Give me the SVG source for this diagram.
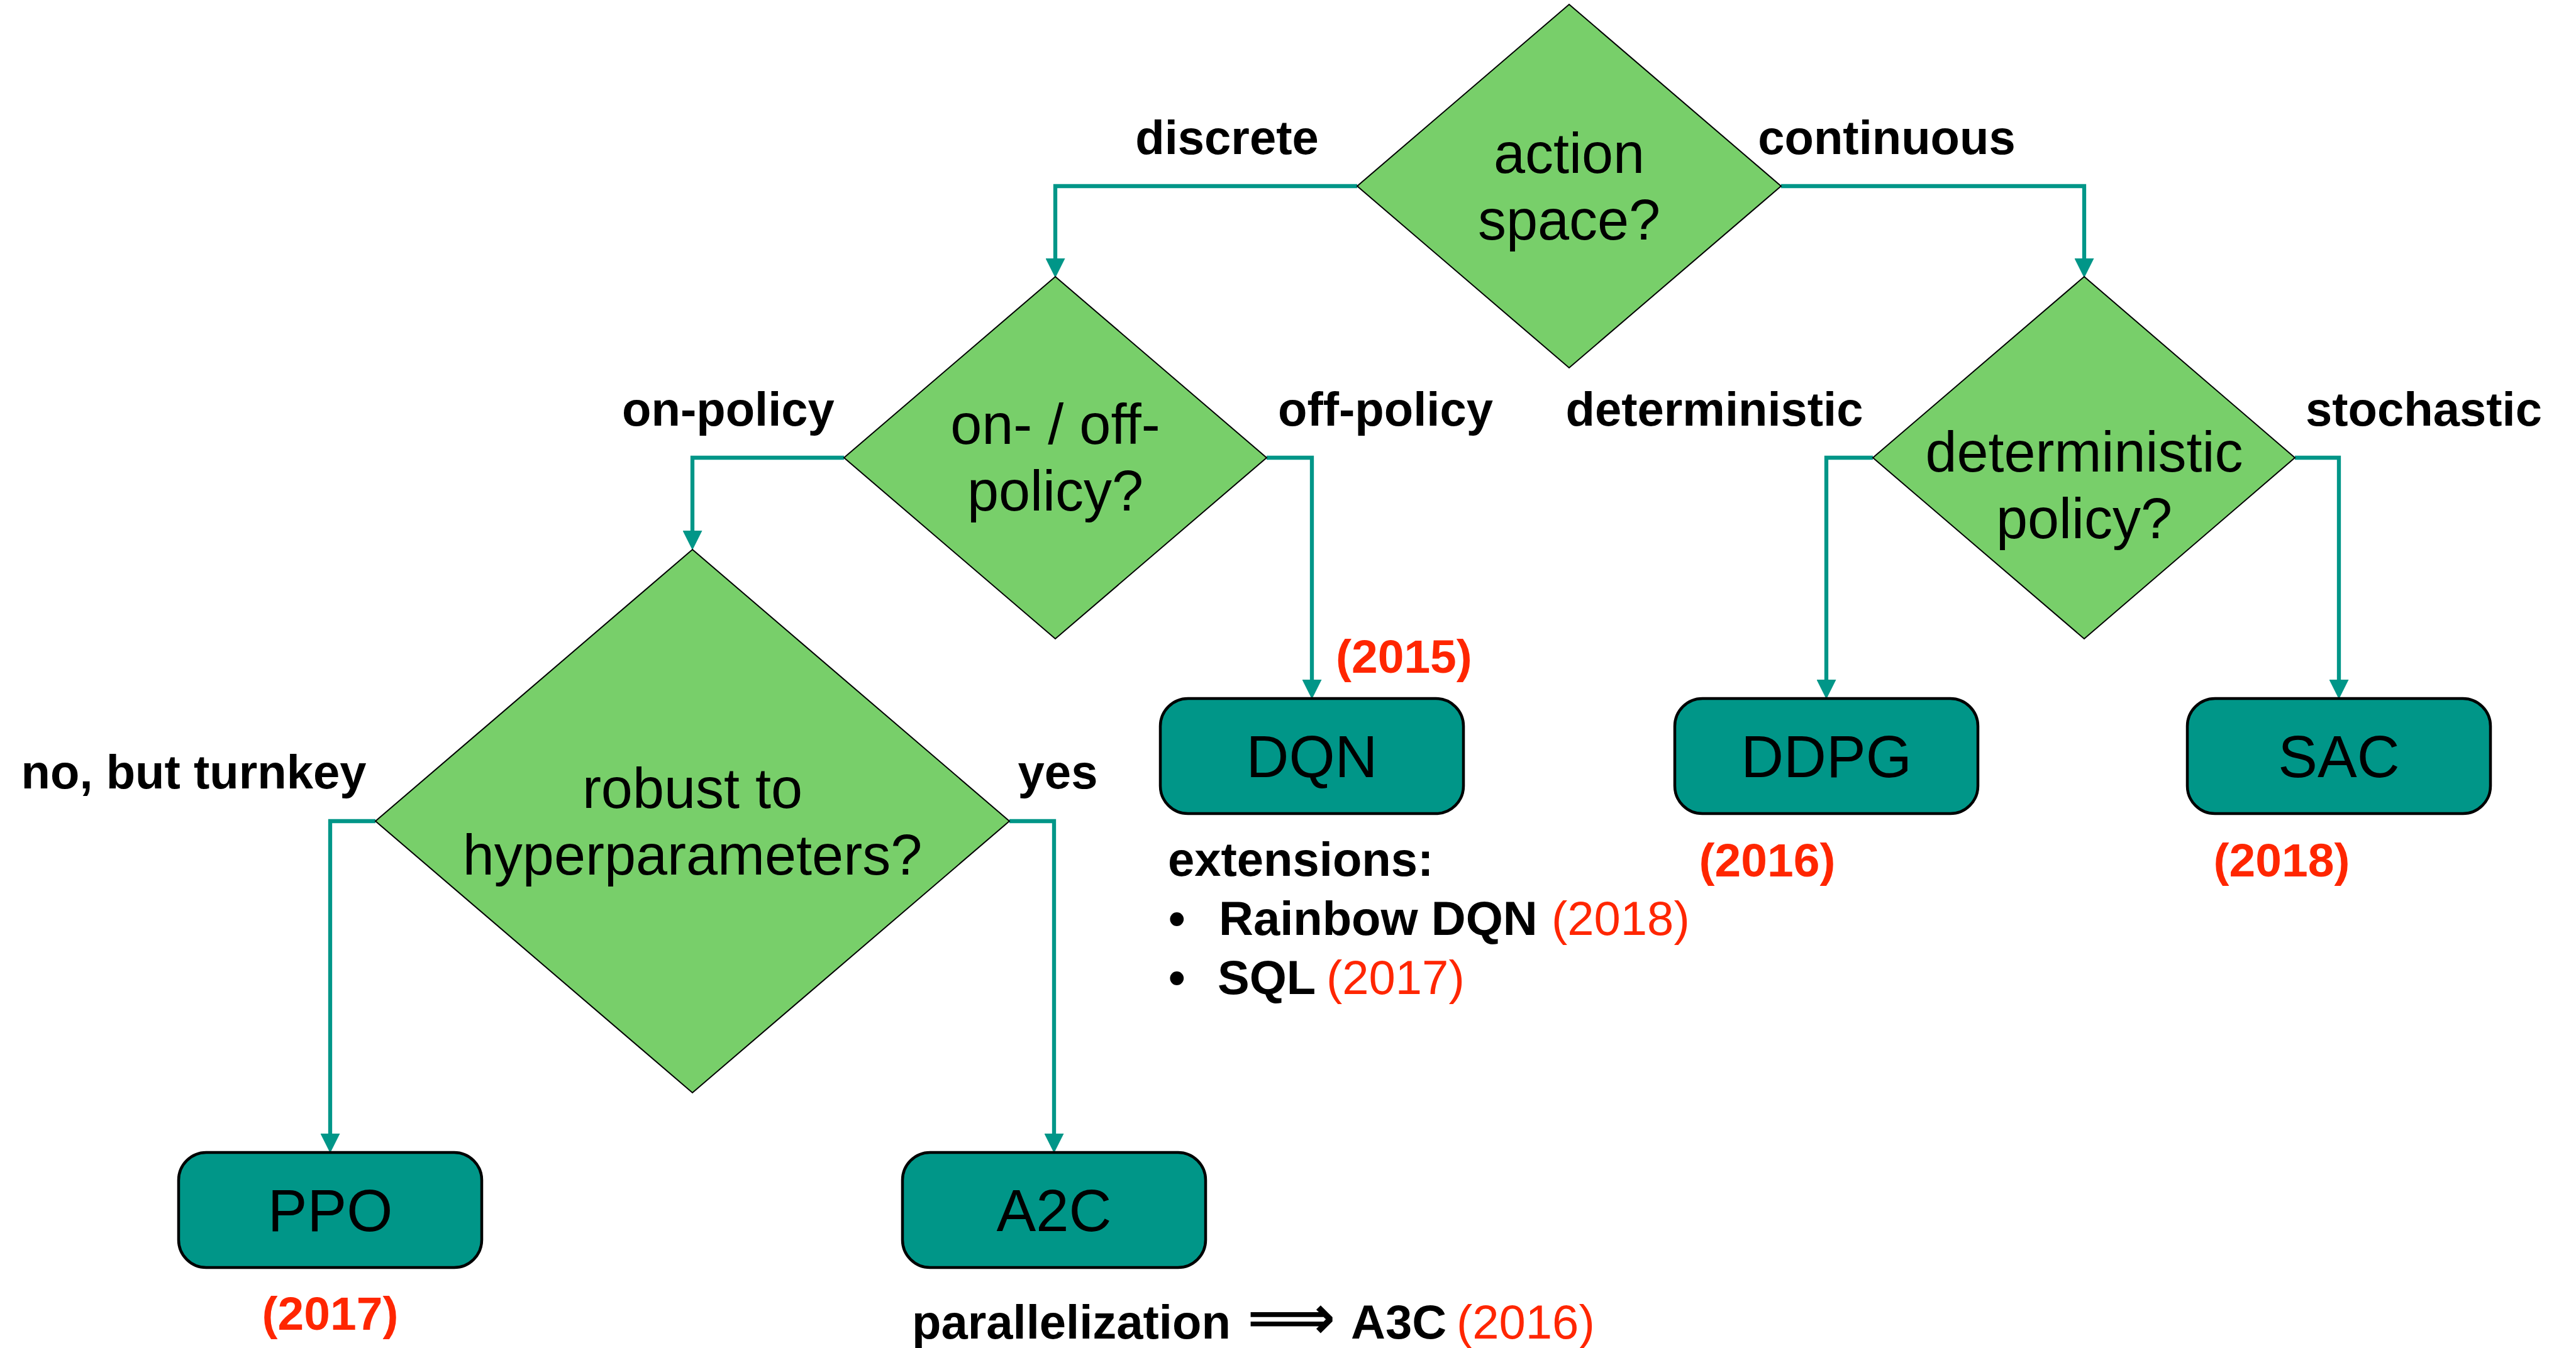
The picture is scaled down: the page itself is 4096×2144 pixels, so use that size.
<svg xmlns="http://www.w3.org/2000/svg" width="4096" height="2144" viewBox="0 0 4096 2144">
<style>
.dia{fill:#78CF6A;stroke:#000;stroke-width:2}
.box{fill:#009688;stroke:#000;stroke-width:4.5}
.con{fill:none;stroke:#009688;stroke-width:6.3}
.dt{font-family:"Liberation Sans",Arial,sans-serif;font-size:90px;fill:#000;text-anchor:middle}
.bt{font-family:"Liberation Sans",Arial,sans-serif;font-size:94px;fill:#000;text-anchor:middle}
.lb{font-family:"Liberation Sans",Arial,sans-serif;font-size:76px;font-weight:bold;fill:#000}
.c{text-anchor:middle}
.yr{font-family:"Liberation Sans",Arial,sans-serif;font-size:75px;font-weight:bold;fill:#FF2600}
.ry{fill:#FF2600;font-weight:normal}
</style>
<defs>
<marker id="ah" markerUnits="userSpaceOnUse" markerWidth="31" markerHeight="31" viewBox="0 0 30 30" refX="0" refY="15" orient="auto">
<path d="M0,0 L30,15 L0,30 z" fill="#009688"/>
</marker>
</defs>
<rect width="4096" height="2144" fill="#fff"/>
<g id="connectors">
<path class="con" marker-end="url(#ah)" d="M2158,296 H1678 V411"/>
<path class="con" marker-end="url(#ah)" d="M2832,296 H3314 V411"/>
<path class="con" marker-end="url(#ah)" d="M1342,728 H1101 V844"/>
<path class="con" marker-end="url(#ah)" d="M2014,728 H2086 V1081"/>
<path class="con" marker-end="url(#ah)" d="M2978,728 H2904 V1081"/>
<path class="con" marker-end="url(#ah)" d="M3649,728 H3719 V1081"/>
<path class="con" marker-end="url(#ah)" d="M597,1306 H525 V1803"/>
<path class="con" marker-end="url(#ah)" d="M1605,1306 H1676 V1803"/>
</g>
<g id="labels">
<text class="lb c" x="1951" y="245">discrete</text>
<text class="lb c" x="3000" y="245">continuous</text>
<text class="lb c" x="1158" y="677">on-policy</text>
<text class="lb c" x="2203" y="677">off-policy</text>
<text class="lb c" x="2726" y="677">deterministic</text>
<text class="lb c" x="3854" y="677">stochastic</text>
<text class="lb c" x="308" y="1254">no, but turnkey</text>
<text class="lb c" x="1682" y="1254">yes</text>
</g>
<g id="action-space">
<polygon class="dia" points="2495,7 2832,296 2495,585 2158,296"/>
<text class="dt" x="2495" y="275">action</text>
<text class="dt" x="2495" y="381">space?</text>
</g>
<g id="on-off-policy">
<polygon class="dia" points="1678,440 2014,728 1678,1016 1342,728"/>
<text class="dt" x="1678" y="706">on- / off-</text>
<text class="dt" x="1678" y="812">policy?</text>
</g>
<g id="deterministic-policy">
<polygon class="dia" points="3314,440 3649,728 3314,1016 2978,728"/>
<text class="dt" x="3314" y="750">deterministic</text>
<text class="dt" x="3314" y="856">policy?</text>
</g>
<g id="robust">
<polygon class="dia" points="1101,874 1605,1306 1101,1738 597,1306"/>
<text class="dt" x="1101" y="1285">robust to</text>
<text class="dt" x="1101" y="1391">hyperparameters?</text>
</g>
<g id="dqn">
<rect class="box" x="1845" y="1111" width="482" height="183" rx="44" ry="44"/>
<text class="bt" x="2086" y="1236">DQN</text>
<text class="yr" x="2124" y="1070">(2015)</text>
</g>
<g id="dqn-extensions">
<text class="lb" x="1857" y="1393">extensions:</text>
<text class="lb" y="1487"><tspan x="1858">•</tspan><tspan x="1938">Rainbow DQN</tspan><tspan class="ry" x="2467">(2018)</tspan></text>
<text class="lb" y="1581"><tspan x="1858">•</tspan><tspan x="1936">SQL</tspan><tspan class="ry" x="2109">(2017)</tspan></text>
</g>
<g id="ddpg">
<rect class="box" x="2663" y="1111" width="482" height="183" rx="44" ry="44"/>
<text class="bt" x="2904" y="1236">DDPG</text>
<text class="yr c" x="2810" y="1394">(2016)</text>
</g>
<g id="sac">
<rect class="box" x="3478" y="1111" width="482" height="183" rx="44" ry="44"/>
<text class="bt" x="3719" y="1236">SAC</text>
<text class="yr c" x="3628" y="1394">(2018)</text>
</g>
<g id="ppo">
<rect class="box" x="284" y="1833" width="482" height="183" rx="44" ry="44"/>
<text class="bt" x="525" y="1958">PPO</text>
<text class="yr c" x="525" y="2115">(2017)</text>
</g>
<g id="a2c">
<rect class="box" x="1435" y="1833" width="482" height="183" rx="44" ry="44"/>
<text class="bt" x="1676" y="1958">A2C</text>
<text class="lb" y="2129"><tspan x="1450">parallelization</tspan><tspan x="1983" font-family="DejaVu Sans, sans-serif" font-weight="bold" font-size="98px">⟹</tspan><tspan x="2148">A3C</tspan><tspan class="ry" x="2316">(2016)</tspan></text>
</g>
</svg>
